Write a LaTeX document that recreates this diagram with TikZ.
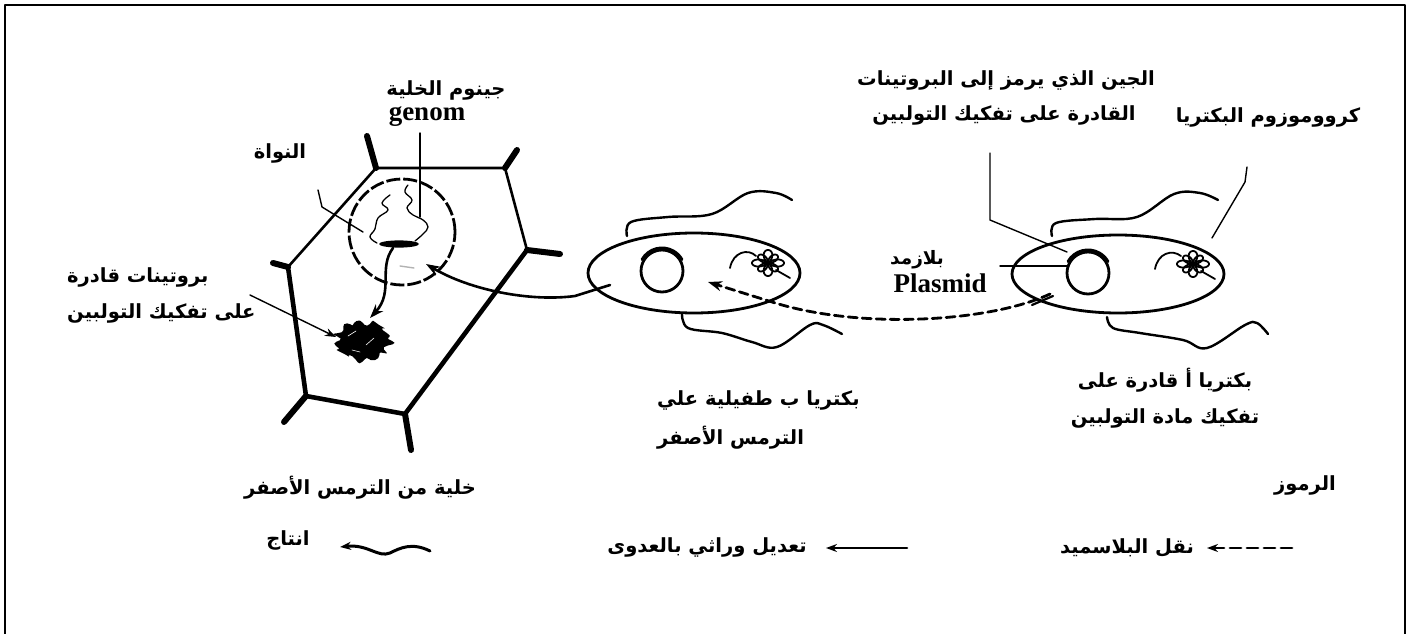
\documentclass[tikz,border=0pt]{standalone}
\usepackage{fontspec}
\setmainfont{Liberation Serif}
\newfontfamily\arfont[Script=Arabic]{DejaVu Sans}
\TeXXeTstate=1
\newcommand{\artext}[1]{{\arfont\bfseries\beginR #1\endR}}
\usetikzlibrary{arrows.meta,calc}

\tikzset{
  lbl/.style={inner sep=0pt, font=\fontsize{19.5}{22}\selectfont},
  smalllbl/.style={inner sep=0pt, font=\fontsize{18.5}{20}\selectfont},
  latinlbl/.style={inner sep=0pt, font=\fontsize{27}{29}\selectfont\bfseries},
  leader/.style={line width=1.4pt},
  outline/.style={line width=2.8pt},
  flagellum/.style={line width=2.4pt},
  wallthin/.style={line width=2.6pt},
  wallthick/.style={line width=4.6pt},
  wallstub/.style={line width=6pt, line cap=round},
  tip/.style={-{Stealth[length=14pt,width=10pt]}},
  smalltip/.style={-{Stealth[length=11pt,width=8pt]}},
  dashline/.style={line width=2.8pt, dash pattern=on 9pt off 5pt},
}

\begin{document}
\begin{tikzpicture}[x=1pt, y=-1pt, line join=round, line cap=round]
\useasboundingbox (0,0) rectangle (1422,634);
\fill[white] (0,0) rectangle (1422,634);

% frame
\draw[line width=2.6pt, line cap=butt] (5,640) -- (5,5) -- (1405,5) -- (1405,640);

% ---------------- plant cell ----------------
\coordinate (vL)  at (288,267);
\coordinate (vTL) at (376,168);
\coordinate (vTR) at (505,168);
\coordinate (vR)  at (527,250);
\coordinate (vBR) at (405,414);
\coordinate (vBL) at (306,396);
\draw[wallthin] (vL) -- (vTL) -- (vTR) -- (vR);
\draw[wallthick] (vR) -- (vBR) -- (vBL) -- (vL);
\draw[wallstub] (vTL) -- (367,136);
\draw[wallstub] (vTR) -- (517,150);
\draw[wallstub] (vR) -- (560,254);
\draw[wallstub] (vBR) -- (411,450);
\draw[wallstub] (vBL) -- (284,422);
\draw[wallstub] (vL) -- (273,263);

% nucleus
\coordinate (nuc) at (402,232);
\draw[line width=2.8pt, line cap=butt, dash pattern=on 14pt off 3pt] (nuc) circle [radius=53pt];

% cell genome
\draw[line width=1.3pt] plot[smooth, tension=0.7] coordinates
  {(390,195) (382,203) (388,210) (378,218) (375,229) (370,237) (377,243)};
\draw[line width=1.3pt] plot[smooth, tension=0.7] coordinates
  {(408,185) (405,192) (412,200) (407,208) (413,215) (423,220) (428,227) (423,234) (415,241)};
\fill (399,244) ellipse [x radius=20pt, y radius=3.6pt];
\coordinate (genbar) at (393,248);

% inserted gene
\draw[line width=1.4pt, gray!60] (400,266) -- (414,268);

% proteins able to break down toluene
\coordinate (prot) at (363,341);
\fill plot[domain=0:360, samples=72] ({363+27*cos(\x)*(1+0.12*sin(13*\x)+0.08*cos(7*\x))},
  {341+19*sin(\x)*(1+0.14*cos(11*\x)+0.06*sin(5*\x))}) -- cycle;
\draw[white, line width=0.6pt] (348,336) -- (356,331) (366,345) -- (374,338) (352,350) -- (360,352);

% production arrow from genome to proteins
\coordinate (protTop) at (370,318);
\draw[line width=2.6pt, tip] (genbar) .. controls (378,268) and (394,292) .. (protTop);

% ---------------- bacterium B ----------------
\coordinate (bB) at (694,273);
\draw[outline] (bB) ellipse [x radius=106pt, y radius=40pt];
\coordinate (plB) at (662,271);
\draw[line width=2.8pt] (plB) circle [radius=21pt];
\draw[line width=3pt] ($(plB)+(150:23pt)$) arc [start angle=150, end angle=30, radius=23pt];
\coordinate (chB) at (768,263);
\draw[line width=1.8pt] plot[domain=0:360, samples=90, smooth]
  ({768+16*cos(2*\x)*cos(\x)}, {263+13*cos(2*\x)*sin(\x)});
\draw[line width=1.8pt] plot[domain=0:360, samples=90, smooth]
  ({768+13*cos(2*\x)*cos(\x+45)}, {263+11*cos(2*\x)*sin(\x+45)});
\draw[line width=1.8pt] (730,268) .. controls (733,252) and (748,248) .. (756,256);
\draw[line width=1.8pt] (776,270) -- (790,278);
\draw[flagellum] plot[smooth, tension=0.6] coordinates
  {(627,236) (631,222) (668,217) (712,214) (748,193) (776,193) (792,200)};
\draw[flagellum] plot[smooth, tension=0.6] coordinates
  {(682,313) (688,328) (722,333) (752,342) (777,347) (810,325) (823,325) (842,334)};

% ---------------- bacterium A ----------------
\coordinate (bA) at (1118,274);
\draw[outline] (bA) ellipse [x radius=106pt, y radius=39pt];
\coordinate (plA) at (1088,273);
\draw[line width=2.8pt] (plA) circle [radius=21pt];
\draw[line width=3pt] ($(plA)+(150:23pt)$) arc [start angle=150, end angle=30, radius=23pt];
\coordinate (chA) at (1193,264);
\draw[line width=1.8pt] plot[domain=0:360, samples=90, smooth]
  ({1193+16*cos(2*\x)*cos(\x)}, {264+13*cos(2*\x)*sin(\x)});
\draw[line width=1.8pt] plot[domain=0:360, samples=90, smooth]
  ({1193+13*cos(2*\x)*cos(\x+45)}, {264+11*cos(2*\x)*sin(\x+45)});
\draw[line width=1.8pt] (1155,269) .. controls (1158,253) and (1172,249) .. (1181,256);
\draw[line width=1.8pt] (1201,271) -- (1215,279);
\draw[flagellum] plot[smooth, tension=0.6] coordinates
  {(1052,236) (1056,223) (1095,219) (1137,217) (1174,194) (1200,193) (1218,200)};
\draw[flagellum] plot[smooth, tension=0.6] coordinates
  {(1107,317) (1113,328) (1140,333) (1183,340) (1207,348) (1245,325) (1257,323) (1268,334)};

% ---------------- transfers ----------------
\coordinate (bOut) at (610,285);
\coordinate (nucIn) at (426,264);
\draw[line width=2.6pt, tip] (bOut) -- (575,296) .. controls (530,302) and (470,290) .. (nucIn);

\coordinate (aOut) at (1050,294);
\coordinate (bIn) at (708,282);
\draw[line width=2.2pt] (1032,305) -- (1053,296);
\draw[dashline, tip] (aOut) .. controls (990,322) and (860,330) .. (772,302) -- (bIn);

% ---------------- labels and leaders ----------------
\node[lbl] (genomeAr) at (446,90) {\artext{جينوم الخلية}};
\node[latinlbl, anchor=base] (genomeLat) at (427,120) {genom};
\coordinate (genomeEnd) at (420,217);
\draw[leader] (420,133) -- (genomeEnd);

\node[lbl] (nucLbl) at (280,153) {\artext{النواة}};
\coordinate (nucLeadA) at (318,190);
\coordinate (nucEnd) at (363,232);
\draw[leader] (nucLeadA) -- (322,207) -- (nucEnd);

\node[lbl, anchor=west] (protLbl1) at (67,277) {\artext{بروتينات قادرة}};
\node[lbl, anchor=west] (protLbl2) at (67,313) {\artext{على تفكيك التولبين}};
\coordinate (protLead) at (250,295);
\coordinate (protSide) at (336,337);
\draw[leader, smalltip] (protLead) -- (protSide);

\node[lbl] (cellLbl) at (360,488) {\artext{خلية من الترمس الأصفر}};

\node[lbl, anchor=west] (bLbl1) at (657,400) {\artext{بكتريا ب طفيلية علي}};
\node[lbl, anchor=west] (bLbl2) at (657,438) {\artext{الترمس الأصفر}};

\node[lbl] (aLbl1) at (1165,380) {\artext{بكتريا أ قادرة على}};
\node[lbl] (aLbl2) at (1165,418) {\artext{تفكيك مادة التولبين}};

\node[lbl] (gene1) at (1006,80) {\artext{الجين الذي يرمز إلى البروتينات}};
\node[lbl] (gene2) at (1004,115) {\artext{القادرة على تفكيك التولبين}};
\coordinate (geneTop) at (990,153);
\coordinate (geneEnd) at (1067,252);
\draw[leader] (geneTop) -- (990,220) -- (geneEnd);

\node[lbl] (chromLbl) at (1268,117) {\artext{كرووموزوم البكتريا}};
\coordinate (chromTop) at (1247,167);
\coordinate (chromEnd) at (1212,238);
\draw[leader] (chromTop) -- (1245,182) -- (chromEnd);

\node[smalllbl] (plasAr) at (917,260) {\artext{بلازمد}};
\node[latinlbl, anchor=base] (plasLat) at (940,292) {Plasmid};
\coordinate (plasLead) at (1000,266);
\coordinate (plasEnd) at (1067,266);
\draw[leader] (plasLead) -- (plasEnd);

% ---------------- key ----------------
\node[lbl] (keyLbl) at (1305,485) {\artext{الرموز}};

\node[lbl] (prodLbl) at (288,540) {\artext{انتاج}};
\coordinate (prodA) at (430,551);
\coordinate (prodB) at (340,547);
\draw[line width=3pt, smalltip] (prodA) .. controls (412,542) and (400,548) .. (390,553)
  .. controls (378,558) and (368,544) .. (prodB);

\node[lbl] (modLbl) at (707,547) {\artext{تعديل وراثي بالعدوى}};
\coordinate (modA) at (907,548);
\coordinate (modB) at (826,548);
\draw[line width=2.6pt, smalltip] (modA) -- (modB);

\node[lbl] (plasTrLbl) at (1127,548) {\artext{نقل البلاسميد}};
\coordinate (trA) at (1292,548);
\coordinate (trB) at (1207,548);
\draw[line width=2.8pt, dash pattern=on 11pt off 6pt, smalltip] (trA) -- (trB);
\end{tikzpicture}
\end{document}
